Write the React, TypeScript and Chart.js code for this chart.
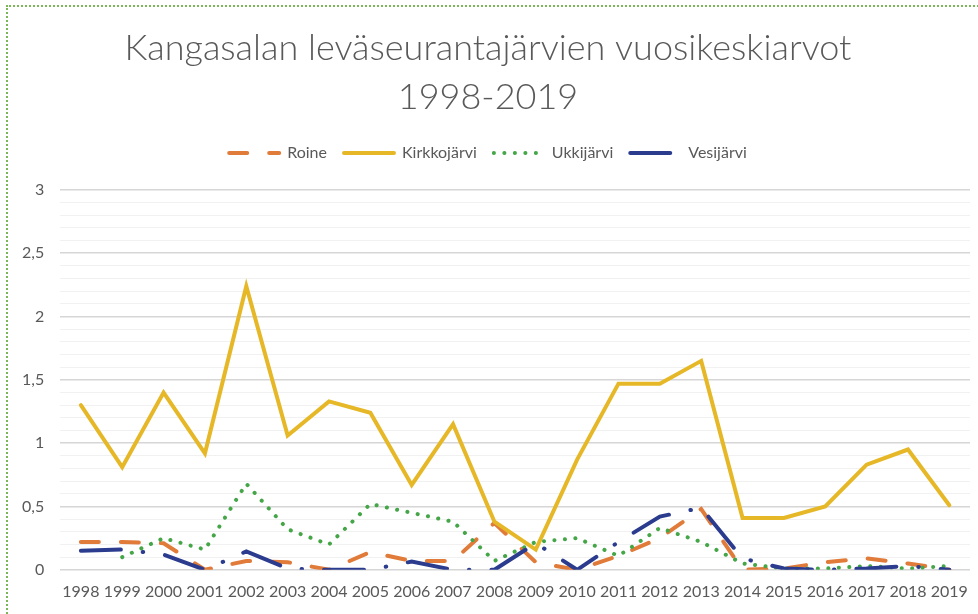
import React, { useEffect, useRef } from 'react';
import { Chart, registerables } from 'chart.js';

Chart.register(...registerables);

const years: string[] = ['1998', '1999', '2000', '2001', '2002', '2003', '2004', '2005', '2006', '2007', '2008', '2009', '2010', '2011', '2012', '2013', '2014', '2015', '2016', '2017', '2018', '2019'];

const roine: (number | null)[] = [0.22, 0.22, 0.21, 0.0, 0.07, 0.06, 0.0, 0.14, 0.07, 0.07, 0.37, 0.06, 0.0, 0.11, 0.25, 0.48, 0.0, 0.01, 0.06, 0.09, 0.05, 0.0];
const kirkkojarvi: (number | null)[] = [1.3, 0.81, 1.4, 0.92, 2.24, 1.06, 1.33, 1.24, 0.67, 1.15, 0.38, 0.16, 0.87, 1.47, 1.47, 1.65, 0.41, 0.41, 0.5, 0.83, 0.95, 0.51];
const ukkijarvi: (number | null)[] = [null, 0.1, 0.25, 0.16, 0.68, 0.32, 0.2, 0.52, 0.45, 0.38, 0.07, 0.22, 0.25, 0.11, 0.33, 0.22, 0.05, 0.01, 0.01, 0.03, 0.01, 0.03];
const vesijarvi: (number | null)[] = [0.15, 0.16, 0.12, 0.0, 0.145, 0.01, 0.0, 0.0, 0.065, 0.0, 0.0, 0.21, 0.0, 0.22, 0.42, 0.49, 0.09, 0.01, 0.0, 0.01, 0.03, 0.0];

const titleLines: string[] = ['Kangasalan leväseurantajärvien vuosikeskiarvot', '1998-2019'];

const TEXT = '#595959';
const FONT = 'Lato, "Open Sans", sans-serif';

const legendSpacer = {
  id: 'legendSpacer',
  beforeLayout(chart: any) {
    const lg = chart.legend;
    if (lg && !lg._spacerWrapped) {
      const orig = lg.fit;
      lg.fit = function () {
        orig.call(this);
        this.height += 19;
      };
      lg._spacerWrapped = true;
    }
  },
};

export default function App() {
  const ref = useRef<HTMLCanvasElement | null>(null);

  useEffect(() => {
    if (!ref.current) return;
    const isMajor = (v: number) => Math.abs(v * 2 - Math.round(v * 2)) < 1e-6;
    const chart = new Chart(ref.current, {
      type: 'line',
      data: {
        labels: years,
        datasets: [
          {
            label: 'Roine',
            data: roine,
            borderColor: '#E07B39',
            backgroundColor: '#E07B39',
            borderWidth: 4,
            borderDash: [18, 22],
            borderCapStyle: 'round',
            pointRadius: 0,
            order: 4,
          },
          {
            label: 'Kirkkojärvi',
            data: kirkkojarvi,
            borderColor: '#E6B828',
            backgroundColor: '#E6B828',
            borderWidth: 4,
            borderCapStyle: 'round',
            pointRadius: 0,
            order: 3,
          },
          {
            label: 'Ukkijärvi',
            data: ukkijarvi,
            borderColor: '#45A648',
            backgroundColor: '#45A648',
            borderWidth: 4,
            borderDash: [0.1, 10.4],
            borderCapStyle: 'round',
            pointRadius: 0,
            order: 2,
          },
          {
            label: 'Vesijärvi',
            data: vesijarvi,
            borderColor: '#2B3C8F',
            backgroundColor: '#2B3C8F',
            borderWidth: 4,
            borderDash: [40, 22, 0.5, 22],
            borderCapStyle: 'round',
            pointRadius: 0,
            order: 1,
          },
        ],
      },
      options: {
        responsive: false,
        animation: false,
        devicePixelRatio: 1,
        layout: { padding: { left: 6, right: 8, top: 0, bottom: 9 } },
        plugins: {
          title: {
            display: true,
            text: titleLines,
            color: TEXT,
            font: { family: FONT, size: 36, weight: '300', lineHeight: 1.36 },
            padding: { top: 24, bottom: 6 },
          },
          legend: {
            display: true,
            position: 'top',
            labels: {
              usePointStyle: true,
              pointStyle: 'line',
              pointStyleWidth: 50,
              color: TEXT,
              font: { family: FONT, size: 16 },
              padding: 17,
              generateLabels: (ch: any) =>
                ch.data.datasets.map((ds: any, i: number) => ({
                  text: ds.label,
                  fillStyle: ds.borderColor,
                  strokeStyle: ds.borderColor,
                  fontColor: TEXT,
                  lineWidth: 4,
                  lineDash: ds.borderDash || [],
                  lineCap: 'round',
                  pointStyle: 'line',
                  hidden: false,
                  datasetIndex: i,
                })),
            },
          },
          tooltip: { enabled: false },
        },
        scales: {
          x: {
            type: 'category',
            offset: true,
            grid: { display: false },
            border: { display: false },
            ticks: {
              color: TEXT,
              font: { family: FONT, size: 16 },
              maxRotation: 0,
              autoSkip: false,
              padding: 4,
            },
          },
          y: {
            min: 0,
            max: 3,
            border: { display: false },
            grid: {
              drawTicks: false,
              color: (ctx: any) => (isMajor(ctx.tick.value) ? '#d6d6d6' : '#f1f1f1'),
              lineWidth: (ctx: any) => (isMajor(ctx.tick.value) ? 1.5 : 1),
            },
            ticks: {
              stepSize: 0.1,
              autoSkip: false,
              color: TEXT,
              font: { family: FONT, size: 16 },
              padding: 16,
              callback: (v: any) => {
                const n = Number(v);
                if (!isMajor(n)) return '';
                return String(Math.round(n * 10) / 10).replace('.', ',');
              },
            },
          },
        },
      },
      plugins: [legendSpacer],
    } as any);
    return () => chart.destroy();
  }, []);

  return (
    <div style={{ position: 'absolute', left: 0, top: 0, width: 978, height: 614, overflow: 'hidden', background: '#ffffff' }}>
      <canvas ref={ref} width={978} height={614} style={{ display: 'block' }} />
      <div style={{ position: 'absolute', left: 6, top: 5, width: 1200, height: 800, border: '2px dotted #7cb65a', pointerEvents: 'none' }} />
    </div>
  );
}
